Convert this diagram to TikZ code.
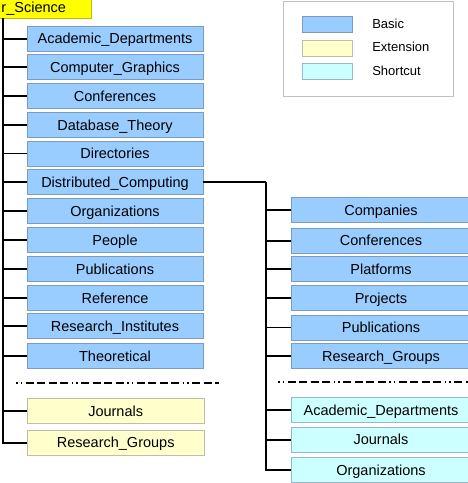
\documentclass[tikz,border=0pt]{standalone}
\usepackage{fontspec}
\setmainfont{Liberation Sans}
\begin{document}
\begin{tikzpicture}[x=1pt,y=-1pt,
  every node/.style={inner sep=0pt,outer sep=0pt,font=\fontsize{14.5}{17}\selectfont},
  boxtext/.style={text height=10.4pt,text depth=0pt},
  basicbox/.style={boxtext,draw={rgb,255:red,125;green,155;blue,190},fill={rgb,255:red,153;green,204;blue,255},line width=0.8pt,minimum height=25pt,minimum width=176pt},
  extbox/.style={boxtext,draw={rgb,255:red,190;green,190;blue,170},fill={rgb,255:red,255;green,255;blue,204},line width=0.8pt,minimum height=25pt,minimum width=177pt},
  shortbox/.style={boxtext,draw={rgb,255:red,150;green,185;blue,195},fill={rgb,255:red,204;green,255;blue,255},line width=0.8pt,minimum height=25pt,minimum width=180pt},
  rbasic/.style={basicbox,minimum width=180pt},
  conn/.style={line width=1.8pt,black},
  sepline/.style={line width=1.8pt,dash pattern=on 1.5pt off 3pt on 1.5pt off 3.5pt on 8pt off 3.5pt on 8pt off 3.5pt on 8pt off 3.5pt on 8pt off 3.5pt},
  legfont/.style={font=\fontsize{13}{15}\selectfont,text height=9.3pt,text depth=0pt}
]
\useasboundingbox (0,0) rectangle (467,483);
% root
\path[draw={rgb,255:red,190;green,190;blue,0},fill={rgb,255:red,255;green,255;blue,0},line width=0.8pt] (-2,-2) rectangle (91,18);
\node[anchor=base west] (root) at (1.5,12.5) {r\_Science};
\coordinate (lt) at (3,18);
% left basic
\node[basicbox] (l1) at (115,38.7) {Academic\_Departments};
\node[basicbox] (l2) at (115,66.8) {Computer\_Graphics};
\node[basicbox] (l3) at (115,95.8) {Conferences};
\node[basicbox] (l4) at (115,124.8) {Database\_Theory};
\node[basicbox] (l5) at (115,153.5) {Directories};
\node[basicbox] (l6) at (115,181.8) {Distributed\_Computing};
\node[basicbox] (l7) at (115,211) {Organizations};
\node[basicbox] (l8) at (115,240) {People};
\node[basicbox] (l9) at (115,269) {Publications};
\node[basicbox] (l10) at (115,298) {Reference};
\node[basicbox] (l11) at (115,326) {Research\_Institutes};
\node[basicbox] (l12) at (115,355.8) {Theoretical};
\node[extbox] (le1) at (115.7,411) {Journals};
\node[extbox] (le2) at (115.7,442.7) {Research\_Groups};
\foreach \n in {l1,l2,l3,l4,l5,l6,l7,l8,l9,l10,l11,l12,le1,le2}
  \draw[conn] (lt) |- (\n.west);
% separators
\coordinate (s1a) at (16,382.7);
\coordinate (s1b) at (219,382.7);
\draw[sepline] (s1a) -- (s1b);
\coordinate (s2a) at (278,382.3);
\coordinate (s2b) at (470,382.3);
\draw[sepline] (s2a) -- (s2b);
% right column
\coordinate (rt) at (266,181.8);
\draw[conn] (l6.east) -- (rt);
\node[rbasic,anchor=west] (r1) at (291,210) {Companies};
\node[rbasic,anchor=west] (r2) at (291,240.7) {Conferences};
\node[rbasic,anchor=west] (r3) at (291,269) {Platforms};
\node[rbasic,anchor=west] (r4) at (291,298) {Projects};
\node[rbasic,anchor=west] (r5) at (291,327.5) {Publications};
\node[rbasic,anchor=west] (r6) at (291,355.8) {Research\_Groups};
\node[shortbox,anchor=west] (r7) at (291,410) {Academic\_Departments};
\node[shortbox,anchor=west] (r8) at (291,439.7) {Journals};
\node[shortbox,anchor=west] (r9) at (291,469.8) {Organizations};
\foreach \n in {r1,r2,r3,r4,r5,r6,r7,r8,r9}
  \draw[conn] (rt) |- (\n.west);
% legend
\node[draw={rgb,255:red,192;green,192;blue,192},line width=0.8pt,minimum width=170pt,minimum height=95pt,anchor=north west] (leg) at (283.3,1.5) {};
\node[basicbox,minimum width=50pt,minimum height=16pt] (lb) at (327.3,24) {};
\node[extbox,minimum width=50pt,minimum height=16pt] (lx) at (327.3,48.7) {};
\node[shortbox,minimum width=50pt,minimum height=16pt] (ls) at (327.3,71.3) {};
\node[legfont,anchor=west] (tb) at (372.3,24.3) {Basic};
\node[legfont,anchor=west] (tx) at (372.3,47) {Extension};
\node[legfont,anchor=west] (ts) at (372.3,71) {Shortcut};
\end{tikzpicture}
\end{document}
